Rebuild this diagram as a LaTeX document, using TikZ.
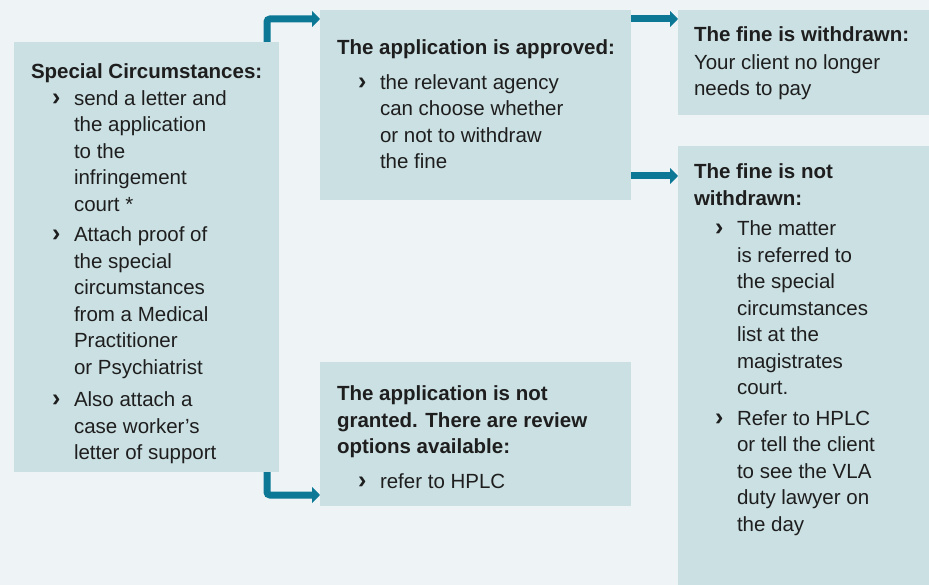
\documentclass[tikz,border=0pt]{standalone}
\usepackage{fontspec}
\setmainfont{Liberation Sans}
\usetikzlibrary{arrows.meta}
\definecolor{bgcol}{HTML}{EEF4F5}
\definecolor{boxcol}{HTML}{CBE0E3}
\definecolor{arrowcol}{HTML}{0C7896}
\definecolor{txtcol}{HTML}{1E1E1E}
\newcommand{\chev}{\hspace*{21pt}\makebox[22pt][l]{\fontsize{25}{26}\selectfont\textbf{›}}}
\newcommand{\ind}{\hspace*{43pt}}

\begin{document}
\begin{tikzpicture}[x=1pt,y=-1pt]
    \tikzstyle{box}=[fill=boxcol,draw=none,inner sep=0pt,outer sep=0pt,anchor=north west];
    \tikzstyle{txt}=[inner sep=0pt,outer sep=0pt,anchor=north west,align=left,text=txtcol,font=\fontsize{20.5}{26.5}\selectfont];
    \tikzstyle{flow}=[draw=arrowcol,line width=7pt,rounded corners=3pt,-{Triangle[width=16pt,length=8pt]}];
    \fill[bgcol] (0,0) rectangle (929,585);
    \useasboundingbox (0,0) rectangle (929,585);

    \node at (14,42)   (sc)       [box,minimum width=265pt,minimum height=430pt] {};
    \node at (320,10)  (approved) [box,minimum width=311pt,minimum height=190pt] {};
    \node at (320,362) (refused)  [box,minimum width=311pt,minimum height=144pt] {};
    \node at (678,10)  (wd)       [box,minimum width=251pt,minimum height=105pt] {};
    \node at (678,146) (notwd)    [box,minimum width=251pt,minimum height=439pt] {};

    \node at (31,64) (sctext) [txt] {\textbf{Special Circumstances:}\\
      \chev send a letter and\\ \ind the application\\ \ind to the\\ \ind infringement\\ \ind court *\\[4pt]
      \chev Attach proof of\\ \ind the special\\ \ind circumstances\\ \ind from a Medical\\ \ind Practitioner\\ \ind or Psychiatrist\\[6pt]
      \chev Also attach a\\ \ind case worker’s\\ \ind letter of support};
    \node at (337,40) (approvedtext) [txt] {\textbf{The application is approved:}\\[8pt]
      \chev the relevant agency\\ \ind can choose whether\\ \ind or not to withdraw\\ \ind the fine};
    \node at (337,386) (refusedtext) [txt] {\textbf{The application is not}\\ \textbf{granted. There are review}\\ \textbf{options available:}\\[8pt]
      \chev refer to HPLC};
    \node at (694,27) (wdtext) [txt] {\textbf{The fine is withdrawn:}\\[1pt]
      Your client no longer\\ needs to pay};
    \node at (694,164) (notwdtext) [txt] {\textbf{The fine is not}\\ \textbf{withdrawn:}\\[4pt]
      \chev The matter\\ \ind is referred to\\ \ind the special\\ \ind circumstances\\ \ind list at the\\ \ind magistrates\\ \ind court.\\[4pt]
      \chev Refer to HPLC\\ \ind or tell the client\\ \ind to see the VLA\\ \ind duty lawyer on\\ \ind the day};

    \coordinate (wdin)    at ([yshift=-9pt]wd.north west);
    \coordinate (notwdin) at ([yshift=-30pt]notwd.north west);
    \draw[flow] ([xshift=-12pt]sc.north east) |- ([yshift=-9pt]approved.north west);
    \draw[flow] ([xshift=-12pt]sc.south east) |- ([yshift=11pt]refused.south west);
    \draw[flow] (approved.east |- wdin) -- (wdin);
    \draw[flow] (approved.east |- notwdin) -- (notwdin);
\end{tikzpicture}
\end{document}
